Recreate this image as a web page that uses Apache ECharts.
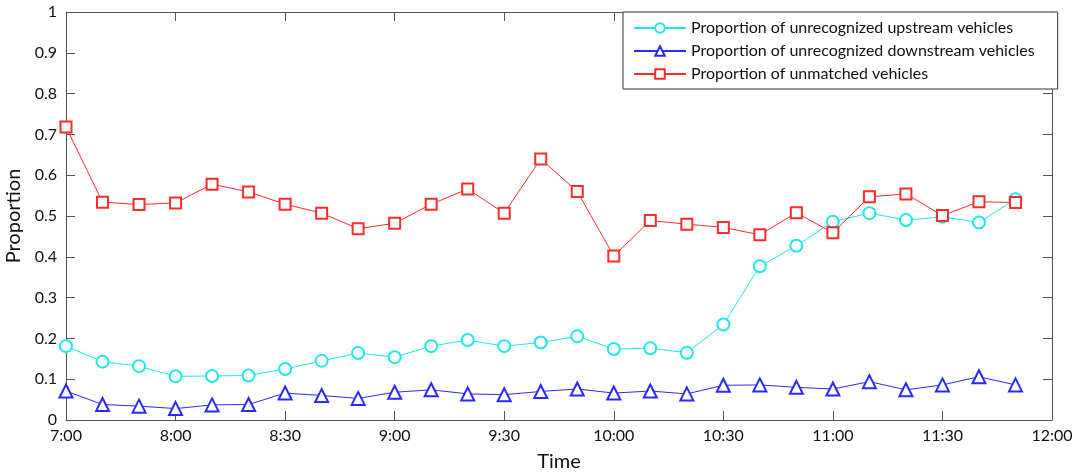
<!DOCTYPE html>
<html>
<head>
<meta charset="utf-8">
<script src="https://cdn.jsdelivr.net/npm/echarts@6/dist/echarts.min.js"></script>
<style>
  html, body { margin: 0; padding: 0; background: #fff; }
  #chart { width: 1078px; height: 474px; }
</style>
</head>
<body>
<div id="chart"></div>
<script>
// tick labels, one every 3 samples (labels as printed on the original figure)
const timeLabels = ['7:00', '8:00', '8:30', '9:00', '9:30', '10:00', '10:30', '11:00', '11:30', '12:00']

// one value per sample, 27 samples
const upstream = [0.181, 0.143, 0.132, 0.107, 0.108, 0.109, 0.125, 0.145, 0.164,
  0.154, 0.181, 0.196, 0.181, 0.190, 0.205, 0.174, 0.176, 0.165,
  0.234, 0.377, 0.427, 0.486, 0.507, 0.490, 0.498, 0.484, 0.541]
const downstream = [0.071, 0.038, 0.034, 0.028, 0.037, 0.038, 0.066, 0.060, 0.053,
  0.068, 0.074, 0.064, 0.062, 0.070, 0.076, 0.066, 0.071, 0.064,
  0.085, 0.086, 0.080, 0.076, 0.094, 0.074, 0.086, 0.106, 0.086]
const unmatched = [0.718, 0.534, 0.528, 0.532, 0.578, 0.559, 0.529, 0.507, 0.469,
  0.482, 0.529, 0.566, 0.507, 0.640, 0.560, 0.402, 0.489, 0.480,
  0.472, 0.454, 0.508, 0.459, 0.547, 0.554, 0.501, 0.535, 0.533]

const seriesNames = [
  'Proportion of unrecognized upstream vehicles',
  'Proportion of unrecognized downstream vehicles',
  'Proportion of unmatched vehicles'
]

const font = 'Lato'
const axisColor = '#555'

function pairs(arr) {
  return arr.map((v, i) => [i, v])
}

function line(name, data, color, symbol, size) {
  return {
    name: name,
    type: 'line',
    data: pairs(data),
    symbol: symbol,
    symbolSize: size,
    showAllSymbol: true,
    lineStyle: { color: color, width: 1 },
    itemStyle: { color: color, borderColor: color, borderWidth: 1 },
    emphasis: { disabled: true },
    animation: false
  }
}

// mirrored axis on the opposite side: line + inward ticks only
function frameAxis(pos, max, interval) {
  return {
    type: 'value',
    position: pos,
    min: 0,
    max: max,
    interval: interval,
    axisLine: { show: true, onZero: false, lineStyle: { color: axisColor } },
    axisTick: { show: true, inside: true, length: 9, lineStyle: { color: axisColor } },
    axisLabel: { show: false },
    splitLine: { show: false }
  }
}

const chartDom = document.getElementById('chart')
const myChart = echarts.init(chartDom)

const options = {
  backgroundColor: '#fff',
  textStyle: { fontFamily: font },
  grid: { left: 66, right: 26, top: 12, bottom: 54, containLabel: false, outerBoundsMode: 'none' },
  legend: {
    orient: 'vertical',
    left: 623,
    top: 12,
    padding: [8, 23, 7, 10],
    itemWidth: 52,
    itemHeight: 12,
    itemGap: 7,
    backgroundColor: '#fff',
    borderColor: '#333',
    borderWidth: 1,
    borderRadius: 0,
    textStyle: { fontFamily: font, fontSize: 16, color: '#111' },
    data: seriesNames
  },
  xAxis: [
    {
      type: 'value',
      position: 'bottom',
      min: 0,
      max: 27,
      interval: 3,
      name: 'Time',
      nameLocation: 'middle',
      nameGap: 32,
      nameTextStyle: { fontSize: 20, color: '#111', fontFamily: font },
      axisLine: { show: true, onZero: false, lineStyle: { color: axisColor } },
      axisTick: { show: true, inside: true, length: 9, lineStyle: { color: axisColor } },
      axisLabel: {
        fontSize: 16,
        color: '#111',
        margin: 8,
        formatter: v => timeLabels[Math.round(v / 3)]
      },
      splitLine: { show: false }
    },
    frameAxis('top', 27, 3)
  ],
  yAxis: [
    {
      type: 'value',
      position: 'left',
      min: 0,
      max: 1,
      interval: 0.1,
      name: 'Proportion',
      nameLocation: 'middle',
      nameGap: 39,
      nameTextStyle: { fontSize: 20, color: '#111', fontFamily: font },
      axisLine: { show: true, onZero: false, lineStyle: { color: axisColor } },
      axisTick: { show: true, inside: true, length: 9, lineStyle: { color: axisColor } },
      axisLabel: { fontSize: 16, color: '#111', margin: 9 },
      splitLine: { show: false }
    },
    frameAxis('right', 1, 0.1)
  ],
  series: [
    line(seriesNames[0], upstream, '#1ee8e8', 'emptyCircle', 12),
    line(seriesNames[1], downstream, '#2a2aff', 'emptyTriangle', 13),
    line(seriesNames[2], unmatched, '#ff2a2a', 'emptyRect', 11)
  ]
}

myChart.setOption(options)
</script>
</body>
</html>
